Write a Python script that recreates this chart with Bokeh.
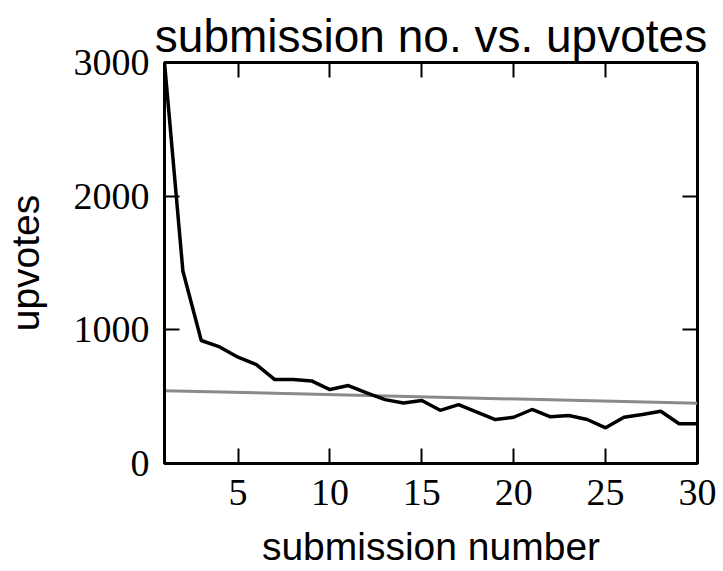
from bokeh.plotting import figure
from bokeh.models import Range1d, FixedTicker, LinearAxis
from bokeh.embed import file_html
from bokeh.resources import INLINE

# ---- data ----
submission = list(range(1, 31))
upvotes = [3000, 1440, 920, 872, 795, 740, 628, 628, 618, 553,
           583, 528, 478, 453, 471, 398, 441, 384, 329, 346,
           404, 349, 359, 329, 267, 346, 366, 391, 297, 297]
trend_x = [1, 30]
trend_y = [545, 450]
x_ticks = [5, 10, 15, 20, 25, 30]
y_ticks = [0, 1000, 2000, 3000]

p = figure(width=723, height=571, output_backend="svg", toolbar_location=None,
           x_range=Range1d(1, 30), y_range=Range1d(0, 3000),
           min_border_left=164, min_border_right=26, min_border_top=62, min_border_bottom=108,
           title="submission no. vs. upvotes")

p.title.text_font = "Liberation Sans"
p.title.text_font_size = "46px"
p.title.text_font_style = "normal"
p.title.align = "center"
p.title.text_color = "black"
p.title.standoff = 2

p.grid.visible = False
p.background_fill_color = "white"
p.border_fill_color = "white"
p.outline_line_color = "black"
p.outline_line_width = 3
p.outline_line_alpha = 1

p.line(trend_x, trend_y, line_color="#8a8a8a", line_width=3)
p.line(submission, upvotes, line_color="black", line_width=3.5)

def style_axis(ax, ticks):
    ax.ticker = FixedTicker(ticks=ticks)
    ax.minor_tick_line_color = None
    ax.major_tick_in = 15
    ax.major_tick_out = 0
    ax.major_tick_line_width = 2
    ax.major_tick_line_color = "black"
    ax.axis_line_color = "black"
    ax.axis_line_width = 3
    ax.major_label_text_font = "Liberation Serif"
    ax.major_label_text_font_size = "38px"
    ax.major_label_text_color = "black"
    ax.axis_label_text_font = "Liberation Sans"
    ax.axis_label_text_font_size = "39px"
    ax.axis_label_text_font_style = "normal"
    ax.axis_label_text_color = "black"

style_axis(p.xaxis[0], x_ticks)
style_axis(p.yaxis[0], y_ticks)
p.xaxis[0].axis_label = "submission number"
p.yaxis[0].axis_label = "upvotes"
p.xaxis[0].major_label_standoff = 16
p.yaxis[0].major_label_standoff = 15
p.xaxis[0].axis_label_standoff = 17
p.yaxis[0].axis_label_standoff = 24

top = LinearAxis()
right = LinearAxis()
style_axis(top, x_ticks)
style_axis(right, y_ticks)
for ax, ticks in ((top, x_ticks), (right, y_ticks)):
    ax.major_label_overrides = {t: "" for t in ticks}
    ax.major_label_standoff = 0
    ax.axis_line_color = None
p.add_layout(top, "above")
p.add_layout(right, "right")

open("out.html", "w").write(file_html(p, INLINE))
